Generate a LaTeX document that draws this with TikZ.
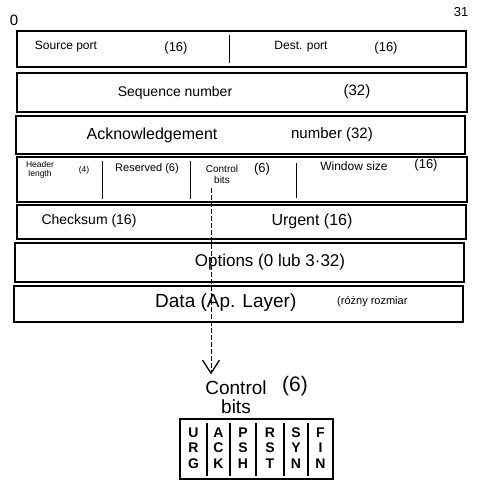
\documentclass[tikz,border=0pt]{standalone}
\usepackage{fontspec}
\setmainfont{Liberation Sans}
\usetikzlibrary{arrows.meta}
\begin{document}
\begin{tikzpicture}[x=1pt,y=-1pt,
  rowbox/.style={draw,line width=1.4pt,inner sep=0pt},
  divider/.style={line width=0.9pt},
  lbl/.style={inner sep=0pt,font=\fontsize{12}{14}\selectfont},
  small/.style={inner sep=0pt,font=\fontsize{8.5}{9.5}\selectfont,align=center},
  flag/.style={inner sep=0pt,font=\fontsize{14}{15.5}\selectfont\bfseries,align=center},
  dasharrow/.style={line width=1pt,dash pattern=on 5pt off 2pt,-{Straight Barb[length=13pt,width=17pt,line width=1.3pt]}}]
\useasboundingbox (0,0) rectangle (479,480);
% bit numbers
\node[lbl,font=\fontsize{15}{17}\selectfont] (b0) at (14,20) {0};
\node[lbl,font=\fontsize{13}{15}\selectfont] (b31) at (461,12) {31};
% rows
\node[rowbox,minimum width=449pt,minimum height=36pt] (r1) at (241.5,49) {};
\node[rowbox,minimum width=450pt,minimum height=39pt] (r2) at (242,92.5) {};
\node[rowbox,minimum width=449pt,minimum height=38pt] (r3) at (240.5,135) {};
\node[rowbox,minimum width=450pt,minimum height=45pt] (r4) at (242,179.5) {};
\node[rowbox,minimum width=449pt,minimum height=34pt] (r5) at (241.5,222) {};
\node[rowbox,minimum width=449pt,minimum height=39pt] (r6) at (239.5,262.5) {};
\node[rowbox,minimum width=449pt,minimum height=36pt] (r7) at (238.5,304) {};
% dividers
\draw[divider] (229,35) -- (229,63);
\draw[divider] (102,161) -- (102,199);
\draw[divider] (190,161) -- (190,199);
\draw[divider] (296,163) -- (296,198);
% row texts
\node[lbl] (sp) at (66,47) {Source port};
\node[lbl,font=\fontsize{13}{15}\selectfont] (sp16) at (176,48) {(16)};
\node[lbl] (dp) at (301,47) {Dest. port};
\node[lbl,font=\fontsize{13}{15}\selectfont] (dp16) at (386,48) {(16)};
\node[lbl,font=\fontsize{14}{16}\selectfont] (seq) at (175,93) {Sequence number};
\node[lbl,font=\fontsize{15}{17}\selectfont] (seq32) at (357,92) {(32)};
\node[lbl,font=\fontsize{16}{18}\selectfont] (ack) at (152,135) {Acknowledgement};
\node[lbl,font=\fontsize{15}{17}\selectfont] (ack2) at (332,135) {number (32)};
\node[small] (hl) at (40,170) {Header\\length};
\node[small] (hl4) at (84,170) {(4)};
\node[lbl,font=\fontsize{11}{13}\selectfont] (res) at (147,169) {Reserved (6)};
\node[small,font=\fontsize{10}{11}\selectfont] (cbt) at (222,174) {Control\\bits};
\node[lbl,font=\fontsize{13}{15}\selectfont] (cb6) at (262,169) {(6)};
\node[lbl] (win) at (354,166) {Window size};
\node[lbl,font=\fontsize{13}{15}\selectfont] (win16) at (426,165) {(16)};
\node[lbl,font=\fontsize{14}{16}\selectfont] (chk) at (89,221) {Checksum (16)};
\node[lbl,font=\fontsize{16}{18}\selectfont] (urg) at (312,221) {Urgent (16)};
\node[lbl,font=\fontsize{17}{19}\selectfont] (opt) at (270,262) {Options (0 lub 3·32)};
\node[lbl,font=\fontsize{19}{21}\selectfont,anchor=west] (dat) at (155,303) {Data (Ap. Layer)};
\node[lbl,font=\fontsize{11}{12}\selectfont,anchor=west] (dsz) at (337,302) {(różny rozmiar};
% control bits detail
\coordinate (cbs) at (211,188);
\node[lbl,font=\fontsize{19}{19}\selectfont,align=center] (ctl) at (236,397) {Control\\bits};
\node[lbl,font=\fontsize{21}{23}\selectfont] (ctl6) at (295,386) {(6)};
\draw[dasharrow,shorten >=6pt] (cbs) -- (cbs |- ctl.north);
\node[rowbox,minimum width=153pt,minimum height=60pt] (flags) at (256.5,449) {};
\draw[divider,line width=1.3pt] (207,423) -- (207,476);
\draw[divider,line width=1.3pt] (230,423) -- (230,476);
\draw[divider,line width=1.3pt] (256,423) -- (256,476);
\draw[divider,line width=1.3pt] (284,423) -- (284,476);
\draw[divider,line width=1.3pt] (308,423) -- (308,476);
\node[flag] (urgf) at (193.5,448) {U\\R\\G};
\node[flag] (ackf) at (218.5,448) {A\\C\\K};
\node[flag] (pshf) at (243,448) {P\\S\\H};
\node[flag] (rstf) at (270,448) {R\\S\\T};
\node[flag] (synf) at (296,448) {S\\Y\\N};
\node[flag] (finf) at (320.5,448) {F\\I\\N};
\end{tikzpicture}
\end{document}
